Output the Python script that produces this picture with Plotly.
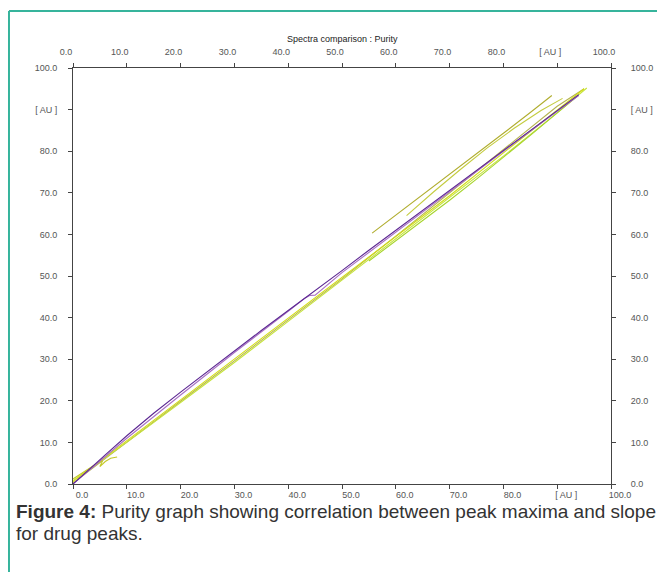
import plotly.graph_objects as go

# ---- data ----
tick_vals = [0, 10, 20, 30, 40, 50, 60, 70, 80, 90, 100]
tick_text = ["0.0", "10.0", "20.0", "30.0", "40.0", "50.0", "60.0", "70.0", "80.0", "[ AU ]", "100.0"]

purple_main_x = [0, 3, 6, 10, 15, 20, 25, 30, 35, 40, 44, 45, 50, 55, 60, 65, 70, 75, 80, 85, 90, 94]
purple_main_y = [0, 3.4, 7.0, 11.6, 17.0, 22.1, 27.1, 32.0, 36.9, 41.7, 45.5, 46.4, 51.3, 56.2, 61.0, 65.8, 70.6, 75.4, 80.2, 85.0, 89.7, 93.6]

violet_x = [0, 5, 10, 20, 30, 40, 43, 44, 45, 50, 60, 70, 80, 90, 94]
violet_y = [0, 5.6, 11.0, 21.4, 31.6, 41.5, 44.6, 45.3, 45.4, 50.8, 60.6, 70.3, 80.0, 89.6, 93.4]

yellow_main_x = [0, 2, 5, 10, 20, 30, 40, 50, 60, 70, 80, 90, 95]
yellow_main_y = [0.5, 2.6, 5.5, 10.4, 20.2, 30.0, 39.8, 49.6, 59.3, 69.3, 79.6, 90.0, 95.0]

yellow_hook_x = [0, 2, 4, 5.5, 5.0, 6.0, 7.0, 8.2]
yellow_hook_y = [1.2, 3.0, 4.6, 5.6, 4.2, 5.4, 6.2, 6.5]

green_low_x = [55, 60, 65, 70, 75, 80, 85, 90, 94]
green_low_y = [53.6, 58.4, 63.3, 68.2, 73.3, 78.5, 83.8, 89.2, 93.5]

green_mid_x = [0, 10, 20, 30, 40, 50, 60, 70, 80, 90, 95.5]
green_mid_y = [0.8, 10.0, 19.6, 29.2, 39.1, 49.0, 58.9, 68.8, 78.8, 89.2, 95.2]

olive_upper_x = [55.6, 60, 65, 70, 75, 80, 85, 89]
olive_upper_y = [60.3, 64.6, 69.5, 74.5, 79.4, 84.3, 89.3, 93.4]

olive_upper2_x = [62, 67, 72, 77, 82, 87, 91]
olive_upper2_y = [64.5, 70.2, 75.6, 80.8, 85.5, 89.8, 92.7]

olive_mid_x = [0, 10, 20, 30, 40, 50, 60, 70, 80, 90, 95]
olive_mid_y = [0.2, 10.1, 19.9, 29.6, 39.4, 49.3, 59.6, 70.0, 80.6, 90.8, 95.0]

series = [
    (olive_mid_x, olive_mid_y, "#b5b34e"),
    (green_mid_x, green_mid_y, "#c6e43c"),
    (green_low_x, green_low_y, "#a6d42c"),
    (yellow_main_x, yellow_main_y, "#d2de14"),
    (yellow_hook_x, yellow_hook_y, "#c4c828"),
    (olive_upper_x, olive_upper_y, "#b0ad2e"),
    (olive_upper2_x, olive_upper2_y, "#c4cc40"),
    (violet_x, violet_y, "#a870c4"),
    (purple_main_x, purple_main_y, "#5c2792"),
]

fig = go.Figure()
for xs, ys, col in series:
    fig.add_trace(go.Scatter(x=xs, y=ys, mode="lines", line=dict(color=col, width=1.1),
                             showlegend=False, hoverinfo="skip"))
# invisible trace to activate top/right axes
fig.add_trace(go.Scatter(x=[0], y=[0], xaxis="x2", yaxis="y2", mode="markers",
                         marker=dict(opacity=0), showlegend=False, hoverinfo="skip"))

tick_font = dict(family="Liberation Sans, Arial, sans-serif", size=9, color="#555555")
axis_common = dict(range=[0, 100], tickmode="array", tickvals=tick_vals, ticktext=tick_text,
                   showgrid=False, zeroline=False, showline=True, linecolor="#444444",
                   linewidth=1, ticks="outside", ticklen=4, tickcolor="#444444",
                   tickfont=tick_font)

caption_font = dict(family="Liberation Sans, Arial, sans-serif", size=19, color="#333333")

fig.update_layout(
    width=657, height=564,
    margin=dict(l=65, r=54, t=60, b=88),
    paper_bgcolor="white", plot_bgcolor="white",
    xaxis=dict(**axis_common, side="bottom", ticklabelshift=9, ticklabelstandoff=-2),
    xaxis2=dict(**axis_common, side="top", overlaying="x", ticklabelshift=-7, ticklabelstandoff=4),
    yaxis=dict(**axis_common, side="left", ticklabelstandoff=9),
    yaxis2=dict(**axis_common, side="right", overlaying="y", ticklabelstandoff=13),
    shapes=[
        dict(type="line", xref="paper", yref="paper", x0=-0.119, x1=1.15, y0=1.137, y1=1.137,
             line=dict(color="#36b49c", width=2)),
        dict(type="line", xref="paper", yref="paper", x0=-0.119, x1=-0.119, y0=1.137, y1=-0.25,
             line=dict(color="#36b49c", width=2)),
    ],
    annotations=[
        dict(text="Spectra comparison : Purity", xref="paper", yref="paper", x=0.5, y=1.07,
             showarrow=False, font=dict(family="Liberation Sans, Arial, sans-serif", size=9, color="#222222"),
             xanchor="center", yanchor="middle"),
        dict(text="<b>Figure 4:</b> Purity graph showing correlation between peak maxima and slope",
             xref="paper", yref="paper", x=-0.108, y=-0.066, xanchor="left", yanchor="middle", align="left",
             showarrow=False, borderpad=0, font=caption_font),
        dict(text="for drug peaks.",
             xref="paper", yref="paper", x=-0.108, y=-0.1178, xanchor="left", yanchor="middle", align="left",
             showarrow=False, borderpad=0, font=caption_font),
    ],
)

fig.write_html("out.html")
